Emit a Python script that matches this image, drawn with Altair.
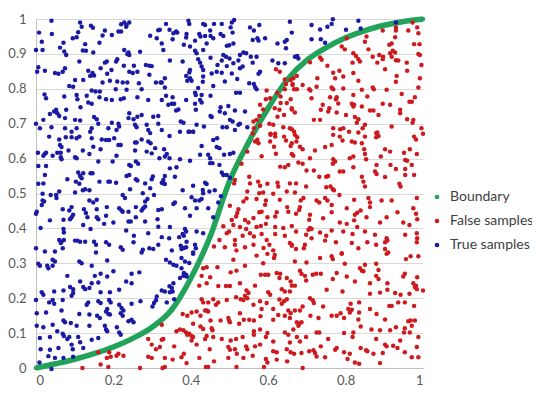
import altair as alt
import pandas as pd

# Boundary curve
boundary_x = [0, 0.05, 0.1, 0.15, 0.2, 0.25, 0.3, 0.35, 0.4, 0.45, 0.5, 0.55, 0.6, 0.65, 0.7, 0.75, 0.8, 0.85, 0.9, 0.95, 1.0]
boundary_y = [0, 0.012, 0.025, 0.041, 0.06, 0.085, 0.117, 0.166, 0.257, 0.377, 0.535, 0.648, 0.745, 0.827, 0.882, 0.918, 0.946, 0.967, 0.982, 0.993, 1.0]

# True samples (blue)
true_samples = [
(0.04,0.995),(0.114,0.99),(0.118,0.978),(0.142,0.981),(0.147,0.975),(0.22,0.985),(0.228,0.99),(0.234,0.983),(0.241,0.99),(0.233,0.978),
(0.008,0.961),(0.041,0.957),(0.109,0.962),(0.178,0.967),(0.172,0.953),(0.196,0.954),(0.213,0.964),(0.22,0.964),(0.295,0.952),(0.316,0.968),
(0.095,0.945),(0.105,0.948),(0.015,0.935),(0.071,0.932),(0.127,0.928),(0.164,0.932),(0.312,0.945),
(0.0,0.911),(0.017,0.911),(0.062,0.918),(0.073,0.907),(0.078,0.897),(0.121,0.91),(0.129,0.909),(0.148,0.904),(0.228,0.911),(0.239,0.904),(0.241,0.897),(0.236,0.9),(0.269,0.906),(0.329,0.911),
(0.006,0.862),(0.003,0.849),(0.023,0.852),(0.049,0.845),(0.058,0.843),(0.069,0.849),(0.075,0.859),(0.112,0.878),(0.135,0.852),(0.146,0.845),(0.15,0.838),(0.14,0.837),(0.167,0.859),(0.178,0.875),(0.183,0.878),(0.184,0.843),(0.195,0.854),(0.207,0.878),(0.21,0.885),(0.227,0.866),(0.241,0.849),(0.25,0.845),(0.253,0.866),(0.262,0.849),(0.284,0.868),(0.293,0.866),(0.299,0.865),(0.293,0.84),(0.31,0.818),(0.322,0.818),
(0.101,0.825),(0.096,0.806),(0.086,0.808),(0.122,0.825),(0.172,0.818),(0.191,0.823),(0.21,0.821),(0.224,0.818),(0.236,0.818),(0.266,0.816),(0.273,0.799),(0.144,0.795),(0.154,0.792),(0.165,0.792),
(0.022,0.784),(0.026,0.773),(0.073,0.778),(0.105,0.782),(0.107,0.77),(0.115,0.747),(0.131,0.78),(0.135,0.761),(0.144,0.757),(0.164,0.776),(0.181,0.77),(0.196,0.768),(0.206,0.799),(0.219,0.77),(0.227,0.773),(0.234,0.797),(0.262,0.776),(0.29,0.768),(0.325,0.768),
(0.047,0.735),(0.052,0.74),(0.055,0.73),(0.036,0.728),(0.06,0.722),(0.078,0.74),(0.0,0.7),(0.019,0.711),(0.075,0.716),(0.101,0.711),(0.114,0.709),(0.15,0.719),(0.157,0.713),(0.161,0.7),(0.196,0.703),(0.213,0.7),(0.215,0.692),(0.239,0.716),(0.241,0.73),(0.252,0.713),(0.262,0.72),(0.273,0.725),(0.303,0.72),(0.316,0.722),
(0.01,0.687),(0.04,0.69),(0.075,0.687),(0.092,0.677),(0.105,0.687),(0.14,0.677),(0.144,0.687),(0.187,0.687),(0.208,0.682),(0.256,0.697),(0.26,0.69),(0.286,0.697),(0.29,0.682),(0.295,0.673),(0.316,0.7),
(0.336,0.986),(0.394,0.995),(0.396,0.986),(0.437,0.983),(0.432,0.986),(0.46,0.986),(0.48,0.986),(0.506,0.99),(0.512,0.997),(0.503,0.976),(0.553,0.976),(0.563,0.967),(0.577,0.983),(0.656,0.992),
(0.32,0.969),(0.345,0.969),(0.355,0.959),(0.362,0.964),(0.365,0.961),(0.389,0.957),(0.388,0.947),(0.422,0.957),(0.425,0.95),(0.437,0.951),(0.45,0.967),(0.451,0.951),(0.477,0.957),(0.484,0.951),(0.508,0.961),
(0.56,0.94),(0.572,0.945),(0.575,0.938),(0.592,0.945),(0.648,0.94),(0.643,0.935),(0.325,0.93),(0.353,0.942),(0.382,0.926),(0.398,0.921),(0.411,0.938),(0.441,0.93),(0.458,0.945),(0.493,0.923),(0.499,0.925),(0.51,0.93),(0.624,0.93),(0.646,0.916),
(0.411,0.909),(0.415,0.902),(0.432,0.911),(0.484,0.897),(0.491,0.892),(0.527,0.897),(0.536,0.904),(0.543,0.902),(0.555,0.892),(0.57,0.892),
(0.346,0.881),(0.379,0.878),(0.419,0.885),(0.424,0.875),(0.451,0.889),(0.48,0.881),(0.5,0.887),(0.523,0.881),(0.611,0.881),(0.626,0.873),(0.643,0.873),
(0.398,0.854),(0.396,0.847),(0.428,0.864),(0.432,0.854),(0.469,0.868),(0.467,0.849),(0.493,0.865),(0.51,0.873),(0.527,0.859),(0.534,0.864),(0.56,0.875),(0.579,0.849),(0.575,0.843),
(0.388,0.837),(0.398,0.83),(0.391,0.823),(0.402,0.823),(0.432,0.835),(0.431,0.82),(0.454,0.844),(0.48,0.846),(0.506,0.844),(0.52,0.828),(0.551,0.816),(0.563,0.814),(0.566,0.805),(0.57,0.799),
(0.333,0.83),(0.325,0.818),(0.333,0.804),(0.419,0.802),(0.458,0.808),(0.488,0.821),(0.517,0.789),(0.527,0.789),(0.411,0.789),(0.413,0.782),(0.428,0.782),(0.451,0.78),
(0.336,0.78),(0.353,0.776),(0.357,0.757),(0.351,0.757),(0.342,0.754),(0.368,0.741),(0.362,0.738),(0.388,0.768),(0.411,0.757),(0.424,0.768),(0.428,0.761),(0.413,0.74),
(0.477,0.747),(0.497,0.751),(0.475,0.735),(0.488,0.73),(0.514,0.738),(0.54,0.735),(0.454,0.719),(0.451,0.722),(0.501,0.711),(0.508,0.706),(0.527,0.7),(0.523,0.697),(0.374,0.706),(0.381,0.703),
(0.325,0.682),(0.372,0.677),(0.394,0.677),(0.406,0.677),(0.415,0.697),(0.434,0.692),(0.482,0.69),(0.493,0.69),(0.546,0.69),(0.514,0.682),
(0.661,0.961),(0.712,0.983),(0.734,0.97),(0.753,0.978),(0.764,0.986),(0.767,0.999),(0.801,0.969),(0.833,0.995),(0.839,0.973),(0.712,0.942),(0.736,0.942),(0.747,0.932),(0.669,0.892),(0.675,0.894),(0.678,0.887),(0.93,0.99),
(0.034,0.663),(0.06,0.655),(0.062,0.639),(0.066,0.633),(0.077,0.661),(0.092,0.661),(0.105,0.658),(0.112,0.663),(0.144,0.658),(0.17,0.655),(0.181,0.653),(0.189,0.653),(0.202,0.658),(0.213,0.639),(0.219,0.639),(0.256,0.646),(0.26,0.646),(0.273,0.655),(0.29,0.649),(0.296,0.644),(0.308,0.63),
(0.005,0.617),(0.019,0.608),(0.023,0.614),(0.026,0.617),(0.043,0.608),(0.055,0.617),(0.064,0.617),(0.066,0.598),(0.064,0.604),(0.084,0.623),(0.101,0.604),(0.105,0.601),(0.121,0.623),(0.138,0.613),(0.148,0.634),(0.167,0.627),(0.208,0.608),(0.198,0.592),(0.161,0.592),(0.241,0.582),(0.245,0.579),(0.258,0.592),(0.264,0.585),(0.256,0.623),(0.286,0.62),(0.299,0.615),(0.319,0.601),
(0.006,0.579),(0.026,0.579),(0.023,0.553),(0.109,0.56),(0.122,0.558),(0.141,0.558),(0.146,0.558),(0.114,0.55),(0.118,0.544),(0.081,0.541),(0.103,0.534),(0.112,0.528),(0.164,0.534),(0.187,0.534),(0.191,0.534),(0.207,0.531),(0.234,0.55),(0.241,0.553),(0.258,0.541),(0.262,0.537),(0.282,0.529),(0.302,0.549),(0.299,0.541),(0.329,0.539),(0.325,0.531),
(0.006,0.528),(0.019,0.529),(0.121,0.509),(0.127,0.512),(0.138,0.509),(0.295,0.515),(0.017,0.499),(0.038,0.496),(0.052,0.496),(0.06,0.506),(0.101,0.503),(0.138,0.48),(0.148,0.474),(0.157,0.482),(0.224,0.496),(0.23,0.487),(0.243,0.512),(0.276,0.501),(0.282,0.477),(0.288,0.484),(0.305,0.496),
(0.017,0.48),(0.021,0.477),(0.015,0.467),(0.053,0.487),(0.069,0.455),(0.092,0.461),(0.086,0.451),(0.124,0.455),(0.157,0.455),(0.183,0.461),(0.215,0.458),(0.221,0.451),(0.239,0.448),(0.258,0.461),(0.277,0.458),(0.282,0.463),(0.273,0.451),(0.316,0.453),
(0.002,0.448),(0.0,0.442),(0.036,0.423),(0.071,0.425),(0.092,0.432),(0.096,0.439),(0.088,0.426),(0.129,0.444),(0.133,0.432),(0.157,0.432),(0.161,0.426),(0.181,0.436),(0.224,0.448),(0.239,0.42),(0.245,0.42),(0.258,0.432),(0.282,0.42),(0.314,0.426),
(0.122,0.41),(0.141,0.398),(0.176,0.413),(0.2,0.417),(0.012,0.401),(0.071,0.398),(0.072,0.388),(0.233,0.394),(0.253,0.379),(0.29,0.386),(0.316,0.405),
(0.06,0.367),(0.066,0.362),(0.064,0.358),(0.072,0.367),(0.101,0.365),(0.107,0.365),(0.114,0.362),(0.127,0.362),(0.15,0.362),(0.155,0.353),(0.181,0.36),(0.189,0.353),(0.219,0.346),(0.224,0.339),(0.252,0.36),(0.276,0.339),(0.293,0.343),(0.303,0.341),(0.316,0.353),
(0.0,0.343),(0.023,0.334),(0.049,0.334),(0.069,0.343),(0.155,0.331),(0.273,0.331),
(0.345,0.665),(0.396,0.677),(0.406,0.677),(0.458,0.653),(0.468,0.658),(0.474,0.63),(0.467,0.633),(0.428,0.636),(0.331,0.627),(0.338,0.613),(0.333,0.606),(0.424,0.611),(0.445,0.611),(0.45,0.601),(0.486,0.611),(0.501,0.613),(0.51,0.617),
(0.345,0.601),(0.372,0.598),(0.398,0.594),(0.45,0.587),(0.456,0.587),(0.474,0.582),(0.346,0.572),(0.363,0.575),(0.48,0.56),(0.484,0.553),(0.493,0.553),(0.333,0.55),(0.359,0.548),(0.501,0.545),
(0.329,0.529),(0.333,0.527),(0.437,0.531),(0.441,0.527),(0.406,0.522),(0.379,0.509),(0.431,0.51),(0.432,0.501),(0.448,0.506),(0.462,0.509),(0.402,0.489),(0.411,0.48),(0.428,0.484),(0.422,0.48),(0.478,0.492),(0.471,0.474),(0.355,0.47),(0.359,0.474),
(0.325,0.455),(0.385,0.458),(0.415,0.458),(0.445,0.458),(0.398,0.436),(0.458,0.432),(0.385,0.398),(0.388,0.391),(0.379,0.384),(0.382,0.379),(0.346,0.404),(0.415,0.391),(0.432,0.386),(0.325,0.375),(0.344,0.372),(0.37,0.375),(0.389,0.362),
(0.374,0.35),(0.382,0.344),(0.376,0.341),(0.388,0.346),(0.411,0.353),(0.413,0.343),(0.351,0.337),(0.406,0.331),
(0.006,0.299),(0.01,0.293),(0.029,0.293),(0.032,0.286),(0.043,0.31),(0.049,0.305),(0.043,0.293),(0.112,0.305),(0.118,0.3),(0.144,0.293),(0.184,0.308),(0.247,0.27),(0.267,0.274),(0.081,0.264),(0.152,0.264),(0.167,0.27),(0.2,0.277),
(0.233,0.248),(0.247,0.243),(0.114,0.248),(0.144,0.243),(0.161,0.245),(0.184,0.262),(0.088,0.232),(0.096,0.226),(0.071,0.222),(0.015,0.217),(0.019,0.21),(0.047,0.219),(0.122,0.232),(0.127,0.226),(0.138,0.229),(0.167,0.217),(0.191,0.217),(0.215,0.224),
(0.0,0.195),(0.034,0.188),(0.043,0.195),(0.047,0.184),(0.069,0.195),(0.092,0.207),(0.096,0.215),(0.131,0.181),(0.135,0.188),(0.161,0.191),(0.167,0.186),(0.189,0.195),(0.193,0.188),(0.215,0.181),(0.221,0.172),(0.226,0.165),(0.247,0.184),(0.27,0.191),(0.305,0.186),(0.31,0.194),(0.301,0.176),(0.312,0.205),
(0.002,0.157),(0.026,0.159),(0.066,0.165),(0.112,0.155),(0.138,0.153),(0.158,0.15),(0.165,0.143),(0.181,0.162),(0.187,0.155),(0.184,0.169),(0.191,0.153),(0.219,0.157),(0.224,0.15),(0.247,0.138),(0.252,0.131),
(0.071,0.136),(0.075,0.131),(0.09,0.129),(0.043,0.124),(0.002,0.121),(0.019,0.117),(0.105,0.121),(0.138,0.121),(0.178,0.121),(0.181,0.11),(0.184,0.105),(0.209,0.117),(0.239,0.134),
(0.055,0.105),(0.069,0.098),(0.072,0.092),(0.086,0.089),(0.081,0.083),(0.036,0.089),(0.01,0.086),(0.109,0.089),(0.114,0.074),(0.144,0.081),(0.161,0.086),(0.215,0.102),(0.219,0.095),
(0.012,0.054),(0.036,0.052),(0.058,0.057),(0.092,0.067),(0.095,0.054),(0.122,0.057),(0.071,0.029),(0.049,0.029),(0.096,0.032),(0.032,0.034),(0.009,0.016),(0.04,-0.003),
(0.336,0.31),(0.346,0.302),(0.355,0.296),(0.376,0.315),(0.385,0.305),(0.363,0.293),(0.396,0.301),(0.382,0.272),(0.388,0.267),(0.389,0.262),(0.381,0.264),(0.376,0.286),(0.406,0.327),
(0.325,0.222),(0.333,0.219),(0.345,0.234),(0.351,0.229),(0.353,0.219),(0.346,0.217),(0.357,0.197),(0.338,0.188),(0.372,0.258),(0.355,0.243),
]

# False samples (red)
false_samples = [
(0.62,0.856),(0.63,0.849),(0.643,0.827),(0.646,0.814),(0.658,0.825),(0.663,0.814),(0.596,0.795),(0.594,0.77),(0.605,0.773),(0.623,0.789),(0.632,0.778),(0.643,0.799),
(0.658,0.77),(0.648,0.759),(0.632,0.759),(0.579,0.754),(0.587,0.741),(0.577,0.722),(0.57,0.711),(0.562,0.706),(0.617,0.744),(0.629,0.74),(0.624,0.72),(0.641,0.725),(0.661,0.741),
(0.603,0.7),(0.613,0.697),(0.579,0.694),(0.563,0.687),(0.56,0.672),(0.639,0.69),(0.661,0.684),(0.606,0.671),(0.618,0.671),
(0.93,0.976),(0.93,0.967),(0.962,0.967),(0.973,0.99),(0.985,0.976),(0.988,0.959),(0.854,0.95),(0.896,0.967),(0.803,0.945),(0.928,0.948),(0.85,0.935),(0.913,0.926),(0.919,0.93),(0.977,0.928),(0.991,0.928),
(0.79,0.921),(0.798,0.913),(0.859,0.913),(0.82,0.902),(0.827,0.894),(0.833,0.885),(0.837,0.878),(0.87,0.892),(0.887,0.897),(0.897,0.892),(0.896,0.885),(0.915,0.902),(0.922,0.909),(0.928,0.904),(0.919,0.892),
(0.93,0.882),(0.936,0.881),(0.958,0.875),(0.988,0.9),(0.992,0.897),(0.734,0.89),(0.738,0.883),(0.708,0.876),(0.753,0.866),(0.818,0.875),(0.882,0.875),(0.996,0.868),(0.902,0.856),(0.768,0.846),(0.784,0.852),(0.794,0.835),(0.82,0.845),(0.959,0.852),
(0.665,0.83),(0.674,0.837),(0.663,0.811),(0.667,0.799),(0.674,0.799),(0.689,0.811),(0.727,0.83),(0.773,0.83),(0.833,0.823),(0.932,0.837),(0.93,0.82),(0.992,0.83),
(0.706,0.799),(0.709,0.795),(0.725,0.806),(0.764,0.804),(0.768,0.799),(0.794,0.801),(0.842,0.797),(0.87,0.804),(0.873,0.799),(0.906,0.797),(0.988,0.804),
(0.712,0.773),(0.76,0.776),(0.777,0.776),(0.775,0.77),(0.82,0.782),(0.856,0.778),(0.945,0.785),(0.979,0.776),(0.965,0.763),(0.971,0.763),
(0.661,0.744),(0.741,0.754),(0.781,0.758),(0.816,0.757),(0.822,0.754),(0.82,0.749),(0.842,0.749),(0.896,0.757),(0.915,0.754),(0.736,0.74),(0.863,0.738),(0.872,0.738),
(0.669,0.732),(0.758,0.744),(0.755,0.735),(0.777,0.732),(0.801,0.725),(0.824,0.719),(0.833,0.713),(0.885,0.725),(0.941,0.74),(0.941,0.73),(0.718,0.711),(0.734,0.711),(0.829,0.703),(0.85,0.697),(0.919,0.692),
(0.959,0.713),(0.975,0.711),(0.973,0.703),(0.656,0.687),(0.667,0.677),(0.768,0.687),(0.786,0.684),(0.794,0.687),(0.844,0.687),(0.882,0.675),(0.996,0.687),
(0.566,0.649),(0.572,0.654),(0.575,0.644),(0.606,0.668),(0.618,0.663),(0.605,0.649),(0.615,0.634),(0.641,0.663),(0.646,0.652),(0.658,0.636),(0.546,0.62),(0.583,0.607),(0.62,0.614),
(0.631,0.577),(0.643,0.575),(0.652,0.582),(0.531,0.585),(0.551,0.548),(0.574,0.534),(0.579,0.522),(0.598,0.528),(0.624,0.531),(0.626,0.52),(0.656,0.529),(0.514,0.539),(0.512,0.529),(0.553,0.529),
(0.546,0.506),(0.577,0.501),(0.587,0.503),(0.613,0.499),(0.648,0.506),(0.544,0.486),(0.536,0.477),(0.57,0.484),(0.594,0.48),(0.592,0.468),(0.63,0.482),(0.649,0.461),(0.652,0.448),
(0.501,0.465),(0.523,0.455),(0.52,0.444),(0.517,0.434),(0.54,0.424),(0.549,0.417),(0.562,0.43),(0.577,0.446),(0.583,0.448),(0.598,0.432),(0.622,0.446),(0.618,0.434),
(0.506,0.424),(0.51,0.41),(0.527,0.404),(0.543,0.398),(0.57,0.404),(0.581,0.407),(0.594,0.413),(0.618,0.404),(0.639,0.401),(0.661,0.407),(0.484,0.406),(0.493,0.386),(0.499,0.391),
(0.474,0.367),(0.514,0.367),(0.514,0.353),(0.534,0.379),(0.553,0.386),(0.563,0.377),(0.583,0.384),(0.596,0.367),(0.603,0.353),(0.618,0.384),(0.643,0.379),(0.656,0.358),(0.661,0.35),
(0.54,0.346),(0.562,0.353),(0.588,0.344),(0.488,0.346),(0.518,0.337),(0.46,0.348),(0.613,0.337),
(0.669,0.668),(0.675,0.661),(0.673,0.649),(0.661,0.644),(0.768,0.668),(0.785,0.663),(0.792,0.652),(0.809,0.677),(0.833,0.675),(0.85,0.663),(0.879,0.673),(0.885,0.665),(0.879,0.661),(0.977,0.663),(0.982,0.655),(1.0,0.671),
(0.764,0.639),(0.747,0.633),(0.816,0.649),(0.824,0.646),(0.842,0.644),(0.682,0.634),(0.689,0.627),(0.721,0.623),(0.848,0.627),(0.85,0.613),(0.853,0.598),(0.902,0.627),(0.915,0.62),(0.951,0.617),(0.966,0.627),
(0.661,0.613),(0.665,0.608),(0.708,0.601),(0.768,0.598),(0.773,0.592),(0.767,0.585),(0.811,0.601),(0.82,0.606),(0.891,0.606),(0.954,0.596),(0.959,0.594),(0.984,0.613),
(0.678,0.589),(0.689,0.585),(0.82,0.575),(0.88,0.582),(0.916,0.582),(0.93,0.57),(0.954,0.57),(0.971,0.582),(0.699,0.566),(0.718,0.566),(0.785,0.563),(0.794,0.563),(0.876,0.563),(0.88,0.556),
(0.732,0.548),(0.75,0.548),(0.755,0.55),(0.842,0.548),(0.902,0.547),(0.954,0.553),(0.977,0.553),(0.672,0.529),(0.698,0.52),(0.75,0.518),(0.761,0.52),(0.767,0.512),(0.77,0.509),(0.846,0.534),(0.85,0.52),(0.939,0.528),(0.942,0.52),
(0.669,0.503),(0.784,0.496),(0.691,0.487),(0.684,0.48),(0.725,0.48),(0.732,0.474),(0.747,0.487),(0.753,0.48),(0.822,0.482),(0.859,0.487),(0.863,0.474),(0.893,0.48),(0.919,0.48),(0.984,0.487),
(0.764,0.467),(0.863,0.461),(0.682,0.461),(0.68,0.453),(0.803,0.458),(0.839,0.451),(0.83,0.445),(0.824,0.439),(0.975,0.458),(0.982,0.442),(0.708,0.439),(0.706,0.425),(0.742,0.429),(0.764,0.446),(0.672,0.442),
(0.854,0.432),(0.906,0.432),(0.934,0.446),(0.985,0.426),(0.785,0.417),(0.803,0.413),(0.822,0.423),(0.889,0.417),(0.949,0.417),(0.965,0.41),(0.83,0.404),
(0.708,0.401),(0.704,0.396),(0.712,0.398),(0.734,0.388),(0.764,0.394),(0.794,0.391),(0.85,0.391),(0.672,0.391),(0.698,0.382),(0.75,0.379),(0.818,0.384),(0.876,0.382),(0.954,0.382),
(0.984,0.386),(0.985,0.372),(0.984,0.36),(0.712,0.372),(0.747,0.365),(0.775,0.36),(0.816,0.358),(0.856,0.36),(0.906,0.372),(0.908,0.365),(0.902,0.36),(0.879,0.353),
(0.661,0.353),(0.695,0.353),(0.692,0.343),(0.672,0.341),(0.833,0.343),(0.902,0.341),(0.79,0.329),(0.91,0.331),
(0.29,0.083),(0.299,0.067),(0.31,0.054),(0.32,0.06),(0.325,0.081),(0.299,0.029),(0.29,0.032),(0.183,0.029),(0.193,0.032),(0.208,0.035),(0.213,0.041),(0.226,0.035),(0.189,0.045),
(0.167,0.01),(0.187,0.003),(0.12,0.0),(0.269,0.0),(0.327,0.0),(0.161,0.045),
(0.441,0.289),(0.432,0.286),(0.469,0.289),(0.51,0.31),(0.54,0.293),(0.57,0.322),(0.598,0.327),(0.617,0.324),(0.615,0.315),(0.587,0.3),(0.503,0.274),(0.518,0.279),
(0.581,0.267),(0.592,0.267),(0.6,0.267),(0.622,0.272),(0.631,0.27),(0.629,0.258),(0.648,0.258),(0.658,0.248),(0.428,0.264),(0.45,0.26),(0.441,0.243),(0.422,0.236),(0.471,0.235),(0.491,0.235),(0.501,0.235),(0.527,0.243),
(0.544,0.222),(0.549,0.215),(0.54,0.207),(0.546,0.2),(0.566,0.236),(0.6,0.217),(0.605,0.21),(0.635,0.226),(0.643,0.219),(0.629,0.196),(0.641,0.191),(0.648,0.197),(0.635,0.184),(0.652,0.165),(0.658,0.157),
(0.428,0.197),(0.432,0.188),(0.445,0.188),(0.458,0.197),(0.471,0.188),(0.493,0.195),(0.517,0.203),(0.529,0.197),(0.536,0.195),(0.579,0.191),(0.596,0.186),
(0.402,0.159),(0.415,0.162),(0.437,0.165),(0.441,0.165),(0.445,0.162),(0.465,0.181),(0.562,0.181),(0.583,0.169),(0.613,0.169),(0.325,0.124),(0.379,0.155),(0.391,0.15),(0.425,0.15),
(0.451,0.136),(0.477,0.136),(0.497,0.143),(0.499,0.136),(0.501,0.131),(0.525,0.127),(0.537,0.138),(0.551,0.138),(0.563,0.136),(0.58,0.148),(0.527,0.157),(0.406,0.127),(0.425,0.119),(0.432,0.112),(0.454,0.114),(0.456,0.108),
(0.626,0.152),(0.643,0.15),(0.613,0.138),(0.372,0.11),(0.381,0.108),(0.388,0.102),(0.396,0.098),(0.402,0.092),(0.391,0.095),(0.406,0.089),(0.363,0.105),(0.329,0.083),
(0.441,0.092),(0.458,0.089),(0.437,0.083),(0.48,0.083),(0.503,0.079),(0.517,0.083),(0.534,0.089),(0.563,0.105),(0.563,0.095),(0.579,0.11),(0.598,0.1),(0.594,0.089),(0.613,0.076),(0.643,0.102),(0.652,0.095),(0.665,0.11),
(0.357,0.062),(0.402,0.079),(0.415,0.067),(0.449,0.054),(0.497,0.06),(0.501,0.052),(0.514,0.054),(0.543,0.062),(0.546,0.054),(0.519,0.041),(0.566,0.062),(0.579,0.067),(0.613,0.048),(0.622,0.045),(0.648,0.054),(0.658,0.045),
(0.333,0.029),(0.353,0.024),(0.376,0.031),(0.382,0.041),(0.389,0.014),(0.422,0.029),(0.46,0.019),(0.497,0.029),(0.536,0.029),(0.56,0.035),(0.594,0.026),(0.598,0.016),(0.622,0.024),(0.649,0.019),
(0.333,0.003),(0.439,0.003),(0.445,0.003),(0.518,0.003),(0.589,0.003),
(0.669,0.305),(0.699,0.302),(0.734,0.315),(0.764,0.32),(0.767,0.312),(0.79,0.327),(0.798,0.299),(0.837,0.286),(0.842,0.279),(0.846,0.277),(0.85,0.296),(0.879,0.299),(0.885,0.281),(0.906,0.327),(0.956,0.312),(0.968,0.32),(0.988,0.32),
(0.682,0.279),(0.686,0.27),(0.695,0.264),(0.715,0.267),(0.724,0.27),(0.736,0.27),(0.777,0.272),(0.803,0.262),(0.824,0.248),(0.863,0.243),(0.879,0.264),(0.885,0.255),(0.908,0.243),(0.949,0.262),(0.953,0.27),(0.985,0.26),
(0.975,0.243),(0.982,0.236),(0.984,0.226),(0.979,0.232),(1.0,0.222),(0.661,0.236),(0.669,0.236),(0.698,0.251),(0.767,0.255),(0.751,0.224),(0.792,0.219),(0.863,0.213),(0.889,0.216),(0.908,0.224),(0.928,0.215),(0.942,0.21),(0.965,0.213),
(0.656,0.219),(0.708,0.2),(0.715,0.194),(0.718,0.186),(0.689,0.176),(0.742,0.176),(0.813,0.184),(0.807,0.169),(0.816,0.167),(0.811,0.159),(0.835,0.188),(0.863,0.169),(0.913,0.178),(0.919,0.178),(0.936,0.188),(0.953,0.188),(0.977,0.178),
(0.669,0.165),(0.682,0.165),(0.656,0.143),(0.709,0.15),(0.764,0.15),(0.777,0.15),(0.787,0.157),(0.835,0.159),(0.88,0.155),
(0.674,0.131),(0.68,0.127),(0.686,0.131),(0.678,0.121),(0.73,0.143),(0.796,0.143),(0.833,0.139),(0.839,0.119),(0.902,0.139),(0.93,0.117),(0.962,0.134),(0.968,0.136),(0.979,0.136),(0.971,0.121),
(0.674,0.089),(0.698,0.089),(0.725,0.102),(0.732,0.102),(0.796,0.1),(0.82,0.102),(0.818,0.089),(0.867,0.11),(0.889,0.108),(0.915,0.108),(0.953,0.114),(0.951,0.102),(0.966,0.102),(0.988,0.089),
(0.656,0.073),(0.682,0.076),(0.755,0.083),(0.879,0.083),(0.902,0.067),(0.906,0.062),(0.923,0.064),(0.941,0.079),(0.984,0.06),
(0.667,0.041),(0.686,0.043),(0.706,0.048),(0.717,0.051),(0.721,0.043),(0.725,0.033),(0.736,0.062),(0.747,0.031),(0.773,0.052),(0.777,0.057),(0.796,0.045),(0.811,0.041),(0.839,0.057),(0.853,0.051),(0.856,0.048),
(0.872,0.041),(0.896,0.043),(0.934,0.057),(0.953,0.045),(0.971,0.031),(0.988,0.031),(0.805,0.026),(0.824,0.016),(0.835,0.012),(0.889,0.014),(0.689,0.0),
]

series_names = ["Boundary", "False samples", "True samples"]
series_colors = ["#22a35a", "#cc1a1f", "#1a1aa3"]

bnd = pd.DataFrame({"x": boundary_x, "y": boundary_y, "series": "Boundary"})
fs = pd.DataFrame(false_samples, columns=["x", "y"]); fs["series"] = "False samples"
ts = pd.DataFrame(true_samples, columns=["x", "y"]); ts["series"] = "True samples"
pts = pd.concat([bnd, fs, ts], ignore_index=True)
pts["order"] = range(len(pts))

FONT = "Lato"
xenc = alt.X("x:Q", scale=alt.Scale(domain=[0, 1], nice=False, zero=False),
             axis=alt.Axis(values=[0, 0.2, 0.4, 0.6, 0.8, 1], format=".1~f", grid=False, ticks=False,
                           domainColor="#bfbfbf", labelColor="#595959", labelFont=FONT,
                           labelFontSize=13, labelPadding=6, title=None))
yenc = alt.Y("y:Q", scale=alt.Scale(domain=[0, 1], nice=False, zero=False),
             axis=alt.Axis(values=[i / 10 for i in range(11)], format=".1~f", grid=True, gridColor="#d9d9d9",
                           ticks=False, domainColor="#bfbfbf", labelColor="#595959", labelFont=FONT,
                           labelFontSize=13, labelPadding=10, title=None))

line = alt.Chart(bnd).mark_line(color="#22a35a", strokeWidth=5.5, interpolate="monotone").encode(x=xenc, y=yenc)

points = alt.Chart(pts).mark_circle(size=20, opacity=1).encode(
    x=xenc, y=yenc,
    color=alt.Color("series:N", scale=alt.Scale(domain=series_names, range=series_colors),
                    legend=alt.Legend(title=None, orient="none", legendX=394, legendY=171,
                                      symbolType="circle", symbolSize=22, labelFont=FONT,
                                      labelFontSize=14, labelColor="#404040", rowPadding=10,
                                      labelOffset=6, padding=0)),
    order="order:Q",
)

chart = alt.layer(line, points).properties(
    width=387, height=349,
    padding={"left": 28, "top": 11, "right": 109, "bottom": 20},
    autosize=alt.AutoSizeParams(type="none"),
).configure_view(strokeWidth=0)

chart.save("out.html", embed_options={"renderer": "svg", "actions": False})
